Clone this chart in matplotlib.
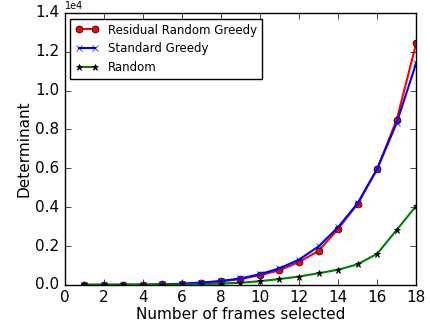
import matplotlib
matplotlib.use("Agg")
import matplotlib.pyplot as plt

plt.style.use("classic")

frames = list(range(1, 19))
residual = [2, 4, 6, 10, 20, 50, 100, 180, 300, 500, 750, 1180, 1750, 2880, 4170, 5970, 8500, 12450]
standard = [3, 5, 8, 13, 25, 60, 120, 200, 330, 550, 850, 1300, 1980, 2970, 4200, 5970, 8340, 11430]
random_sel = [1, 2, 3, 5, 10, 20, 40, 70, 110, 190, 300, 430, 600, 780, 1060, 1600, 2830, 4070]

fig, ax = plt.subplots(figsize=(4.3, 3.23), dpi=100)
ax.plot(frames, residual, "r-o", lw=1.5, markersize=5, label="Residual Random Greedy")
ax.plot(frames, standard, "b-x", lw=1.5, markersize=5, markeredgecolor="b", label="Standard Greedy")
ax.plot(frames, random_sel, "g-*", lw=1.5, markersize=5, markerfacecolor="k", markeredgecolor="k", label="Random")

ax.set_xlim(0, 18)
ax.set_ylim(0, 14000)
ax.set_xticks(range(0, 19, 2))
ax.ticklabel_format(axis="y", style="sci", scilimits=(0, 0))
ax.yaxis.get_offset_text().set_fontsize(7)
ax.tick_params(labelsize=11)
ax.set_xlabel("Number of frames selected", fontsize=11, labelpad=1)
ax.set_ylabel("Determinant", fontsize=11, labelpad=2)
ax.legend(loc="upper left", fontsize=8.5, numpoints=2, handlelength=2)

fig.subplots_adjust(left=0.15, right=0.968, top=0.96, bottom=0.118)
fig.savefig("out.png", dpi=100)
